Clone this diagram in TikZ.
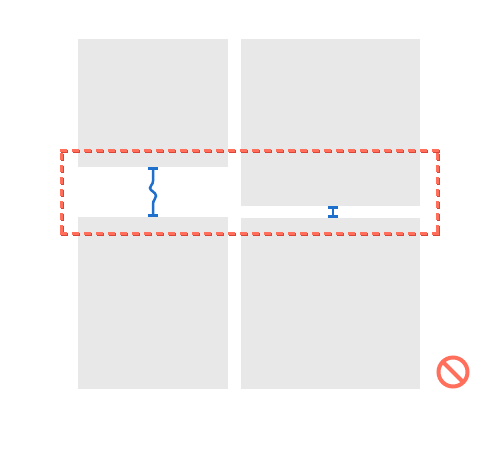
\documentclass[tikz,border=0pt]{standalone}
\definecolor{cellgray}{HTML}{E8E8E8}
\definecolor{linered}{HTML}{FF6F5B}
\definecolor{shadered}{HTML}{DB4537}
\definecolor{gapblue}{HTML}{1F6FCC}
\tikzset{
  cell/.style={fill=cellgray,draw=none},
  rowbox/.style={line width=0.06cm,dash pattern=on 0.14cm off 0.10cm},
  gapline/.style={gapblue,line width=0.05cm},
  gapcap/.style={gapblue,line width=0.07cm},
}
\begin{document}
\begin{tikzpicture}[x=0.02cm,y=-0.02cm]
  \useasboundingbox (0,0) rectangle (500,450);
  \fill[cell] (78,39) rectangle (228,167); %upper left
  \fill[cell] (241,39) rectangle (420,206); %upper right
  \fill[cell] (78,217) rectangle (228,389); %lower left
  \fill[cell] (241,218) rectangle (420,389); %lower right

  \draw[gapcap] (148,168.5)--(158,168.5);
  \draw[gapcap] (148,215.5)--(158,215.5);
  \draw[gapline] (153,168)--(153,181) .. controls (153,185) and (150,185) .. (150,188) .. controls (150,191) and (156,192) .. (156,196) .. controls (156,199) and (153,200) .. (153,204)--(153,215);
  \draw[gapcap] (328,207.5)--(338,207.5);
  \draw[gapcap] (328,216.5)--(338,216.5);
  \draw[gapline] (333,207.5)--(333,216.5);

  \foreach \col/\off in {shadered/1,linered/0}{
    \begin{scope}[shift={(\off,\off)}]
      \draw[rowbox,\col] (60,150.5)--(438.5,150.5); %top
      \draw[rowbox,\col] (60,233.5)--(438.5,233.5); %bottom
      \draw[rowbox,\col] (61.5,153)--(61.5,235); %left
      \draw[rowbox,\col] (437.5,153)--(437.5,235); %right
    \end{scope}
  }

  \draw[linered,line width=0.08cm] (453,372) circle (14.5);
  \draw[linered,line width=0.08cm] (443,362)--(463,382);
\end{tikzpicture}
\end{document}
